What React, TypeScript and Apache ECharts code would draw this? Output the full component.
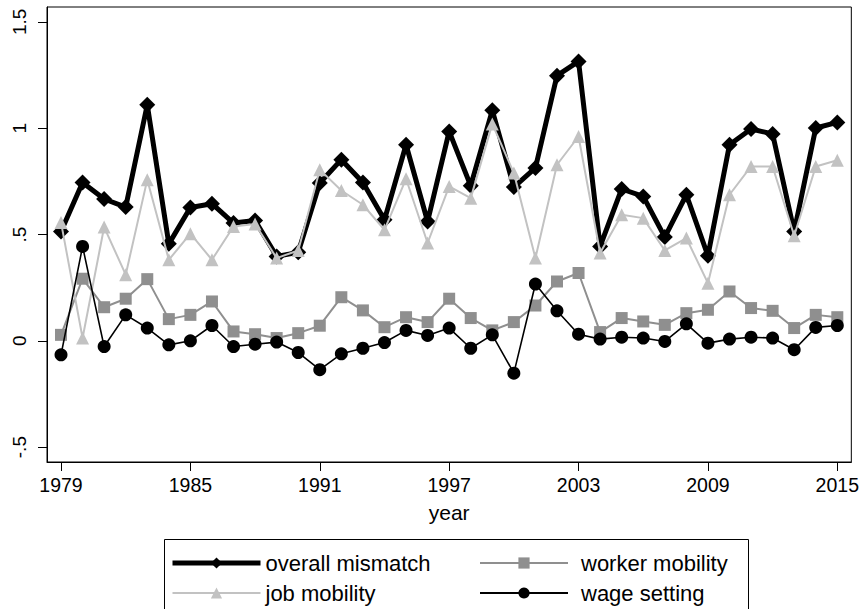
import React, { useEffect, useRef } from "react";
import * as echarts from "echarts";

const years: number[] = [];
for (let y = 1979; y <= 2015; y++) years.push(y);

const overallMismatch = [
  0.514, 0.745, 0.667, 0.629, 1.11, 0.456, 0.627, 0.645, 0.554, 0.566, 0.397, 0.416,
  0.742, 0.852, 0.745, 0.569, 0.922, 0.561, 0.985, 0.729, 1.084, 0.723, 0.813,
  1.247, 1.314, 0.444, 0.714, 0.679, 0.488, 0.687, 0.4, 0.922, 0.996, 0.973, 0.514, 1.001, 1.027,
];
const jobMobility = [
  0.557, 0.013, 0.535, 0.311, 0.758, 0.381, 0.504, 0.381, 0.538, 0.549, 0.389, 0.425,
  0.805, 0.707, 0.64, 0.522, 0.762, 0.46, 0.726, 0.671, 1.02, 0.789, 0.389,
  0.828, 0.961, 0.413, 0.593, 0.577, 0.425, 0.483, 0.271, 0.687, 0.82, 0.82, 0.494, 0.82, 0.849,
];
const workerMobility = [
  0.028, 0.292, 0.158, 0.198, 0.29, 0.102, 0.122, 0.185, 0.044, 0.031, 0.013, 0.036,
  0.071, 0.205, 0.143, 0.064, 0.111, 0.088, 0.198, 0.107, 0.049, 0.088, 0.166,
  0.279, 0.319, 0.041, 0.107, 0.091, 0.075, 0.13, 0.146, 0.232, 0.154, 0.141, 0.06, 0.122, 0.111,
];
const wageSetting = [
  -0.066, 0.444, -0.027, 0.122, 0.06, -0.019, 0.0, 0.072, -0.027, -0.016, -0.006, -0.055,
  -0.136, -0.061, -0.035, -0.008, 0.049, 0.025, 0.06, -0.035, 0.028, -0.152, 0.267,
  0.141, 0.031, 0.008, 0.017, 0.013, -0.003, 0.08, -0.011, 0.008, 0.017, 0.013, -0.042, 0.063, 0.072,
];

const xTickValues = [1979, 1985, 1991, 1997, 2003, 2009, 2015];
const yTickValues = [-0.5, 0, 0.5, 1, 1.5];
const yTickLabels = ["-.5", "0", ".5", "1", "1.5"];

const FONT = "Liberation Sans, Arial, Helvetica, sans-serif";

export default function App() {
  const ref = useRef<HTMLDivElement>(null);
  useEffect(() => {
    if (!ref.current) return;
    const chart = echarts.init(ref.current, null, { renderer: "svg" });
    const pair = (vals: number[]) => years.map((y, i) => [y, vals[i]]);
    const legendText = { fontSize: 22, lineHeight: 20, color: "#000", fontFamily: FONT };
    chart.setOption({
      animation: false,
      backgroundColor: "#fff",
      textStyle: { fontFamily: FONT, color: "#000" },
      grid: {
        left: 47,
        right: 2,
        top: 7,
        bottom: 147,
        show: true,
        borderColor: "#000",
        borderWidth: 1,
        containLabel: false,
      },
      xAxis: {
        type: "value",
        min: 1978.35,
        max: 2015.65,
        name: "year",
        nameLocation: "middle",
        nameGap: 40,
        nameTextStyle: { fontSize: 21, color: "#000", fontFamily: FONT },
        axisLine: { show: true, onZero: false, lineStyle: { color: "#000", width: 1 } },
        axisTick: { show: true, length: 9, customValues: xTickValues, lineStyle: { color: "#000" } },
        axisLabel: {
          customValues: xTickValues,
          margin: 13,
          fontSize: 19.5,
          color: "#000",
          fontFamily: FONT,
          formatter: (v: number) => String(v),
        },
        splitLine: { show: false },
      },
      yAxis: {
        type: "value",
        min: -0.57,
        max: 1.57,
        axisLine: { show: true, onZero: false, lineStyle: { color: "#000", width: 1 } },
        axisTick: { show: true, length: 9, customValues: yTickValues, lineStyle: { color: "#000" } },
        axisLabel: {
          customValues: yTickValues,
          rotate: 90,
          margin: 18,
          fontSize: 19,
          color: "#000",
          fontFamily: FONT,
          formatter: (v: number) => {
            const idx = yTickValues.findIndex((t) => Math.abs(t - v) < 1e-9);
            return idx >= 0 ? yTickLabels[idx] : "";
          },
        },
        splitLine: { show: false },
      },
      legend: [
        {
          orient: "vertical",
          left: 170,
          top: 552,
          height: 56,
          padding: 0,
          itemWidth: 88,
          itemHeight: 14,
          itemGap: 8,
          data: [
            { name: "overall mismatch", lineStyle: { width: 5, color: "#000" } },
            { name: "job mobility", lineStyle: { width: 2, color: "#c2c2c2" } },
          ],
          textStyle: legendText,
        },
        {
          orient: "vertical",
          left: 479,
          top: 552,
          height: 56,
          padding: 0,
          itemWidth: 88,
          itemHeight: 14,
          itemGap: 8,
          data: [
            { name: "worker mobility", lineStyle: { width: 2, color: "#8f8f8f" } },
            { name: "wage setting", lineStyle: { width: 2, color: "#000" } },
          ],
          textStyle: { ...legendText, padding: [0, 0, 0, 8] },
        },
      ],
      graphic: [
        {
          type: "rect",
          left: 162,
          top: 537,
          shape: { x: 0, y: 0, width: 584, height: 90 },
          style: { fill: "none", stroke: "#000", lineWidth: 1 },
          silent: true,
        },
      ],
      series: [
        {
          name: "overall mismatch",
          type: "line",
          data: pair(overallMismatch),
          symbol: "diamond",
          symbolSize: 16,
          showAllSymbol: true,
          itemStyle: { color: "#000" },
          lineStyle: { color: "#000", width: 5 },
          z: 2,
        },
        {
          name: "worker mobility",
          type: "line",
          data: pair(workerMobility),
          symbol: "rect",
          symbolSize: 12,
          showAllSymbol: true,
          itemStyle: { color: "#8f8f8f" },
          lineStyle: { color: "#8f8f8f", width: 2 },
          z: 3,
        },
        {
          name: "job mobility",
          type: "line",
          data: pair(jobMobility),
          symbol: "triangle",
          symbolSize: 13,
          showAllSymbol: true,
          itemStyle: { color: "#c2c2c2" },
          lineStyle: { color: "#c2c2c2", width: 2 },
          z: 4,
        },
        {
          name: "wage setting",
          type: "line",
          data: pair(wageSetting),
          symbol: "circle",
          symbolSize: 13,
          showAllSymbol: true,
          itemStyle: { color: "#000" },
          lineStyle: { color: "#000", width: 1.6 },
          z: 5,
        },
      ],
    });
    return () => chart.dispose();
  }, []);
  return (
    <div
      ref={ref}
      style={{ position: "fixed", left: 0, top: 0, width: 862, height: 609, background: "#fff" }}
    />
  );
}
